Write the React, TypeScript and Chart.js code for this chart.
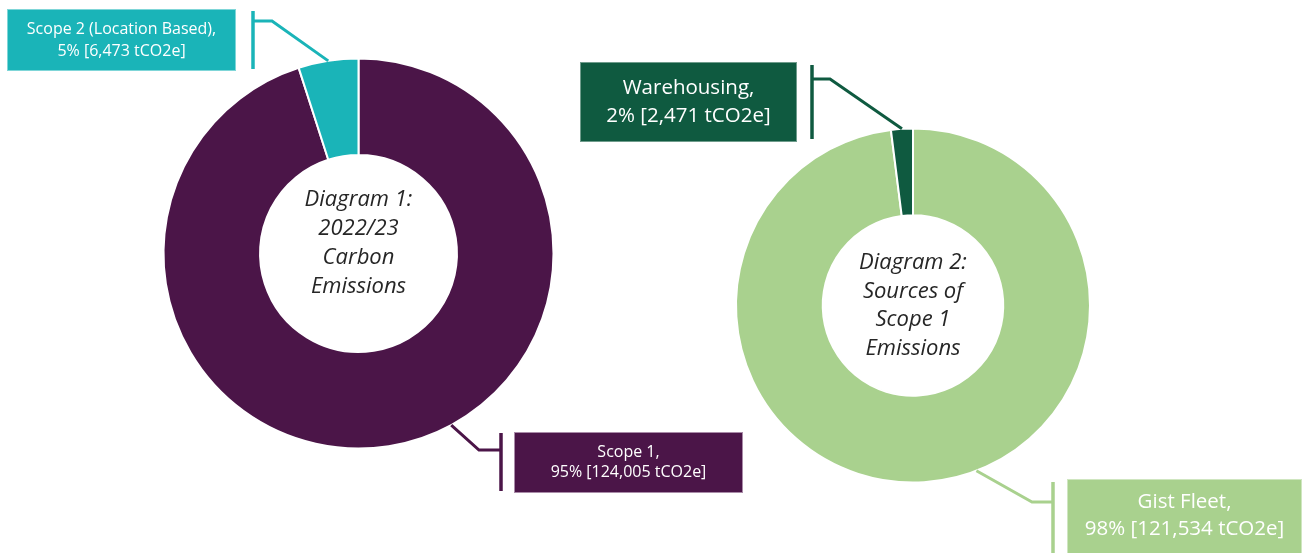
import React, { useEffect, useRef } from "react";
import { Chart, registerables } from "chart.js";

Chart.register(...registerables);

// ---- Data ----
const diagram1Labels = ["Scope 1", "Scope 2 (Location Based)"];
const diagram1Values = [124005, 6473];
const diagram1Colors = ["#4B1548", "#1AB4B8"];
const diagram1Borders = ["#A98BA8", "#7FD6D8"];
const diagram1Center = ["Diagram 1:", "2022/23", "Carbon", "Emissions"];

const diagram2Labels = ["Gist Fleet", "Warehousing"];
const diagram2Values = [121534, 2471];
const diagram2Colors = ["#A9D18E", "#0F5A40"];
const diagram2Borders = ["#CFE6C0", "#6F9C8C"];
const diagram2Center = ["Diagram 2:", "Sources of", "Scope 1", "Emissions"];

const W = 1304;
const H = 553;
const FONT = '"Open Sans", "Noto Sans", sans-serif';

type LabelLayout = {
  box: [number, number, number, number];
  barX: number;
  barTop: number;
  barBottom: number;
  elbowX: number;
  elbowY: number;
  anchorDeg?: number;
  fontSize: number;
  lineGap: number;
};

type CalloutCfg = {
  labels: string[];
  values: number[];
  colors: string[];
  borders: string[];
  center: string[];
  centerFont: number;
  centerGap: number;
  centerOffsetY: number;
  layouts: LabelLayout[];
};

const calloutPlugin = {
  id: "callouts",
  afterDraw(chart: any, _args: any, opts: CalloutCfg) {
    const ctx = chart.ctx as CanvasRenderingContext2D;
    const meta = chart.getDatasetMeta(0);
    const total = opts.values.reduce((a, b) => a + b, 0);
    ctx.save();
    let cx = 0;
    let cy = 0;
    meta.data.forEach((arc: any, i: number) => {
      const p = arc.getProps(["x", "y", "startAngle", "endAngle", "outerRadius"], true);
      cx = p.x;
      cy = p.y;
      const L = opts.layouts[i];
      if (!L) return;
      const a =
        L.anchorDeg !== undefined
          ? -Math.PI / 2 + (L.anchorDeg * Math.PI) / 180
          : (p.startAngle + p.endAngle) / 2;
      const r = p.outerRadius;
      const px = p.x + Math.cos(a) * r;
      const py = p.y + Math.sin(a) * r;
      const col = opts.colors[i];
      // leader line
      ctx.strokeStyle = col;
      ctx.lineWidth = 3;
      ctx.lineJoin = "miter";
      ctx.beginPath();
      ctx.moveTo(px, py);
      ctx.lineTo(L.elbowX, L.elbowY);
      ctx.lineTo(L.barX, L.elbowY);
      ctx.stroke();
      ctx.lineWidth = 3.5;
      ctx.beginPath();
      ctx.moveTo(L.barX, L.barTop);
      ctx.lineTo(L.barX, L.barBottom);
      ctx.stroke();
      // box
      const [bx, by, bw, bh] = L.box;
      ctx.fillStyle = col;
      ctx.fillRect(bx, by, bw, bh);
      ctx.strokeStyle = opts.borders[i];
      ctx.lineWidth = 1;
      ctx.strokeRect(bx + 0.5, by + 0.5, bw - 1, bh - 1);
      // text
      const pct = Math.round((opts.values[i] / total) * 100);
      const lines = [
        opts.labels[i] + ",",
        pct + "% [" + opts.values[i].toLocaleString("en-US") + " tCO2e]",
      ];
      ctx.fillStyle = "#FFFFFF";
      ctx.font = `${L.fontSize}px ${FONT}`;
      ctx.textAlign = "center";
      ctx.textBaseline = "middle";
      const midY = by + Math.min(bh, H - by) / 2;
      const tx = bx + bw / 2;
      lines.forEach((t, k) => {
        ctx.fillText(t, tx, midY + (k - (lines.length - 1) / 2) * L.lineGap);
      });
    });
    // centre text
    ctx.fillStyle = "#262626";
    ctx.font = `italic ${opts.centerFont}px ${FONT}`;
    ctx.textAlign = "center";
    ctx.textBaseline = "middle";
    opts.center.forEach((t, k) => {
      ctx.fillText(
        t,
        cx,
        cy + opts.centerOffsetY + (k - (opts.center.length - 1) / 2) * opts.centerGap
      );
    });
    ctx.restore();
  },
};

function makeChart(
  canvas: HTMLCanvasElement,
  labels: string[],
  values: number[],
  colors: string[],
  radius: number,
  cutout: string,
  padding: { left: number; right: number; top: number; bottom: number },
  callouts: CalloutCfg
) {
  return new Chart(canvas, {
    type: "doughnut",
    data: {
      labels,
      datasets: [
        {
          data: values,
          backgroundColor: colors,
          borderColor: "#FFFFFF",
          borderWidth: 2,
          hoverOffset: 0,
        },
      ],
    },
    options: {
      responsive: false,
      animation: false,
      devicePixelRatio: 1,
      radius,
      cutout,
      layout: { padding },
      events: [],
      plugins: {
        legend: { display: false },
        tooltip: { enabled: false },
        // @ts-ignore
        callouts,
      },
    } as any,
    plugins: [calloutPlugin],
  });
}

export default function App() {
  const ref1 = useRef<HTMLCanvasElement>(null);
  const ref2 = useRef<HTMLCanvasElement>(null);

  useEffect(() => {
    const c1 = makeChart(
      ref1.current!,
      diagram1Labels,
      diagram1Values,
      diagram1Colors,
      195,
      "50.5%",
      { left: 0, right: W - 717, top: 0, bottom: H - 507 },
      {
        labels: diagram1Labels,
        values: diagram1Values,
        colors: diagram1Colors,
        borders: diagram1Borders,
        center: diagram1Center,
        centerFont: 22,
        centerGap: 29,
        centerOffsetY: -10,
        layouts: [
          {
            box: [514, 432, 229, 61],
            barX: 501,
            barTop: 433,
            barBottom: 491,
            elbowX: 479,
            elbowY: 450,
            anchorDeg: 151.6,
            fontSize: 16,
            lineGap: 19.5,
          },
          {
            box: [7, 9, 229, 62],
            barX: 253,
            barTop: 11,
            barBottom: 69,
            elbowX: 272,
            elbowY: 21,
            fontSize: 16,
            lineGap: 22,
          },
        ],
      }
    );
    const c2 = makeChart(
      ref2.current!,
      diagram2Labels,
      diagram2Values,
      diagram2Colors,
      177,
      "51%",
      { left: 522, right: 0, top: 58, bottom: 0 },
      {
        labels: diagram2Labels,
        values: diagram2Values,
        colors: diagram2Colors,
        borders: diagram2Borders,
        center: diagram2Center,
        centerFont: 22,
        centerGap: 28.5,
        centerOffsetY: 0,
        layouts: [
          {
            box: [1067, 479, 235, 80],
            barX: 1053,
            barTop: 482,
            barBottom: 560,
            elbowX: 1032,
            elbowY: 502,
            anchorDeg: 159,
            fontSize: 20.5,
            lineGap: 27,
          },
          {
            box: [580, 62, 217, 80],
            barX: 812,
            barTop: 65,
            barBottom: 139,
            elbowX: 830,
            elbowY: 79,
            fontSize: 20.5,
            lineGap: 28,
          },
        ],
      }
    );
    return () => {
      c1.destroy();
      c2.destroy();
    };
  }, []);

  const style: React.CSSProperties = {
    position: "absolute",
    left: 0,
    top: 0,
    width: W,
    height: H,
  };

  return (
    <div
      style={{
        position: "fixed",
        left: 0,
        top: 0,
        width: W,
        height: H,
        background: "#FFFFFF",
        overflow: "hidden",
      }}
    >
      <canvas ref={ref1} width={W} height={H} style={style} />
      <canvas ref={ref2} width={W} height={H} style={style} />
    </div>
  );
}
